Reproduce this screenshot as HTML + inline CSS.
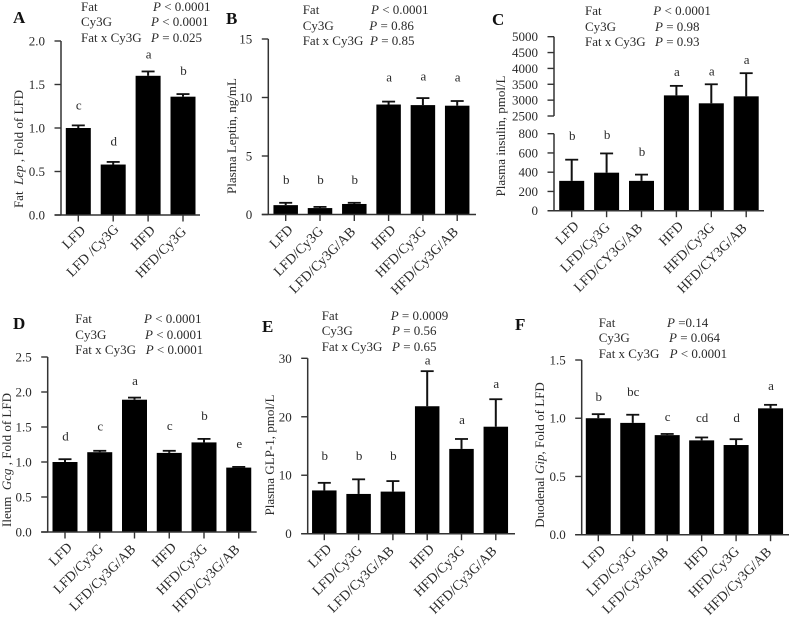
<!DOCTYPE html>
<html>
<head>
<meta charset="utf-8">
<title>Six-panel bar chart</title>
<style>
html,body{margin:0;padding:0;background:#fff;}
svg{display:block;}
text{font-family:"Liberation Serif",serif;font-size:13px;fill:#2a2a2a;}
.pl{font-family:"Liberation Serif",serif;font-size:17px;font-weight:bold;fill:#111;}
.xl{font-size:14px;}
.i{font-style:italic;}
</style>
</head>
<body>
<svg id="chart" xmlns="http://www.w3.org/2000/svg" width="791" height="618" viewBox="0 0 791 618">
<rect width="791" height="618" fill="#fff"/>
<text class="pl" x="13" y="23">A</text>
<text class="pl" x="226" y="24">B</text>
<text class="pl" x="492" y="25">C</text>
<text class="pl" x="13" y="329">D</text>
<text class="pl" x="262" y="332">E</text>
<text class="pl" x="515" y="330">F</text>

<g>
<text x="81" y="11">Fat</text><text x="153" y="11"><tspan class="i">P</tspan> &lt; 0.0001</text>
<text x="81" y="26">Cy3G</text><text x="151" y="26"><tspan class="i">P</tspan> &lt; 0.0001</text>
<text x="81" y="42">Fat x Cy3G</text><text x="151" y="42"><tspan class="i">P</tspan> = 0.025</text>
</g>
<g>
<text x="302.7" y="14">Fat</text><text x="371" y="14"><tspan class="i">P</tspan> &lt; 0.0001</text>
<text x="302.7" y="30">Cy3G</text><text x="369.3" y="30"><tspan class="i">P</tspan> = 0.86</text>
<text x="302.7" y="45">Fat x Cy3G</text><text x="370" y="45"><tspan class="i">P</tspan> = 0.85</text>
</g>
<g>
<text x="585" y="15">Fat</text><text x="653.3" y="15"><tspan class="i">P</tspan> &lt; 0.0001</text>
<text x="585" y="31">Cy3G</text><text x="655" y="31"><tspan class="i">P</tspan> = 0.98</text>
<text x="585" y="46">Fat x Cy3G</text><text x="655" y="46"><tspan class="i">P</tspan> = 0.93</text>
</g>
<g>
<text x="75.3" y="323">Fat</text><text x="144" y="323"><tspan class="i">P</tspan> &lt; 0.0001</text>
<text x="75.3" y="339">Cy3G</text><text x="145" y="339"><tspan class="i">P</tspan> &lt; 0.0001</text>
<text x="75.3" y="354">Fat x Cy3G</text><text x="145.7" y="354"><tspan class="i">P</tspan> &lt; 0.0001</text>
</g>
<g>
<text x="321.7" y="320">Fat</text><text x="390.7" y="320"><tspan class="i">P</tspan> = 0.0009</text>
<text x="321.7" y="335">Cy3G</text><text x="392" y="335"><tspan class="i">P</tspan> = 0.56</text>
<text x="321.7" y="351">Fat x Cy3G</text><text x="392" y="351"><tspan class="i">P</tspan> = 0.65</text>
</g>
<g>
<text x="598.7" y="327">Fat</text><text x="667" y="327"><tspan class="i">P</tspan> =0.14</text>
<text x="598.7" y="342">Cy3G</text><text x="669" y="342"><tspan class="i">P</tspan> = 0.064</text>
<text x="598.7" y="358">Fat x Cy3G</text><text x="669.6" y="358"><tspan class="i">P</tspan> &lt; 0.0001</text>
</g>

<text text-anchor="middle" transform="translate(23,149) rotate(-90)">Fat&#160;&#160;<tspan class="i">Lep</tspan> , Fold of LFD</text>
<text text-anchor="middle" transform="translate(236,136) rotate(-90)">Plasma Leptin, ng/mL</text>
<text text-anchor="middle" transform="translate(505,136) rotate(-90)">Plasma insulin, pmol/L</text>
<text text-anchor="middle" transform="translate(11,460) rotate(-90)">Ileum&#160;&#160;<tspan class="i">Gcg</tspan> , Fold of LFD</text>
<text text-anchor="middle" transform="translate(274,455) rotate(-90)">Plasma GLP-1, pmol/L</text>
<text text-anchor="middle" transform="translate(544,455) rotate(-90)">Duodenal <tspan class="i">Gip</tspan>, Fold of LFD</text>
</svg>
<script>
// Panel A
const aCategories = ["LFD", "LFD /Cy3G", "HFD", "HFD/Cy3G"];
const aMeans = [1.0, 0.58, 1.6, 1.36];
const aErrorTops = [1.03, 0.61, 1.65, 1.39];
const aLetters = ["c", "d", "a", "b"];
const aLetterLevels = [1.21, 0.8, 1.8, 1.61];
const aTicks = ["0.0", "0.5", "1.0", "1.5", "2.0"];
// Panel B
const bCategories = ["LFD", "LFD/Cy3G", "LFD/Cy3G/AB", "HFD", "HFD/Cy3G", "HFD/Cy3G/AB"];
const bMeans = [0.8, 0.55, 0.9, 9.4, 9.35, 9.3];
const bErrorTops = [1.0, 0.65, 1.0, 9.65, 9.95, 9.7];
const bLetters = ["b", "b", "b", "a", "a", "a"];
const bLetterLevels = [2.6, 2.6, 2.6, 11.37, 11.45, 11.37];
const bTicks = ["0", "5", "10", "15"];
// Panel C
const cCategories = ["LFD", "LFD/Cy3G", "LFD/CY3G/AB", "HFD", "HFD/Cy3G", "HFD/CY3G/AB"];
const cMeans = [310, 395, 310, 3150, 2900, 3120];
const cErrorTops = [530, 595, 375, 3450, 3500, 3850];
const cLetters = ["b", "b", "b", "a", "a", "a"];
const cLetterLevels = [735, 745, 568, 3761, 3777, 4139];
const cTicks = ["0", "200", "400", "600", "800", "2500", "3000", "3500", "4000", "4500", "5000"];
// Panel D
const dCategories = ["LFD", "LFD/Cy3G", "LFD/Cy3G/AB", "HFD", "HFD/Cy3G", "HFD/Cy3G/AB"];
const dMeans = [1.0, 1.14, 1.89, 1.13, 1.28, 0.92];
const dErrorTops = [1.04, 1.16, 1.92, 1.16, 1.33, 0.93];
const dLetters = ["d", "c", "a", "c", "b", "e"];
const dLetterLevels = [1.31, 1.45, 2.1, 1.46, 1.6, 1.2];
const dTicks = ["0.0", "0.5", "1.0", "1.5", "2.0", "2.5"];
// Panel E
const eCategories = ["LFD", "LFD/Cy3G", "LFD/Cy3G/AB", "HFD", "HFD/Cy3G", "HFD/Cy3G/AB"];
const eMeans = [7.4, 6.8, 7.2, 21.8, 14.5, 18.3];
const eErrorTops = [8.7, 9.3, 9.0, 27.8, 16.2, 23.0];
const eLetters = ["b", "b", "b", "a", "a", "a"];
const eLetterLevels = [12.6, 12.6, 12.6, 28.9, 18.8, 24.9];
const eTicks = ["0", "10", "20", "30"];
// Panel F
const fCategories = ["LFD", "LFD/Cy3G", "LFD/Cy3G/AB", "HFD", "HFD/Cy3G", "HFD/Cy3G/AB"];
const fMeans = [1.0, 0.96, 0.855, 0.81, 0.77, 1.085];
const fErrorTops = [1.035, 1.03, 0.865, 0.835, 0.82, 1.115];
const fLetters = ["b", "bc", "c", "cd", "d", "a"];
const fLetterLevels = [1.147, 1.19, 0.976, 0.967, 0.967, 1.242];
const fTicks = ["0.0", "0.5", "1.0", "1.5"];

const NS = "http://www.w3.org/2000/svg";
const svg = document.getElementById("chart");
const AXIS = "#333";

function linearScale(d0, d1, p0, p1) {
  return function (v) { return p0 + (v - d0) * (p1 - p0) / (d1 - d0); };
}
function brokenScale(lowMax, highMin, low, high) {
  return function (v) { return v <= lowMax ? low(v) : (v >= highMin ? high(v) : high(highMin)); };
}
function line(parent, x1, y1, x2, y2, w, color) {
  const el = document.createElementNS(NS, "line");
  el.setAttribute("x1", x1);
  el.setAttribute("y1", y1);
  el.setAttribute("x2", x2);
  el.setAttribute("y2", y2);
  el.setAttribute("stroke", color);
  el.setAttribute("stroke-width", w);
  parent.appendChild(el);
  return el;
}
function label(parent, x, y, str, anchor) {
  const el = document.createElementNS(NS, "text");
  el.setAttribute("x", x);
  el.setAttribute("y", y);
  el.setAttribute("text-anchor", anchor);
  el.textContent = str;
  parent.appendChild(el);
  return el;
}

function drawPanel(p) {
  const g = document.createElementNS(NS, "g");
  
  
  svg.appendChild(g);
  const xOf = function (i) { return p.x0 + p.step * i; };
  const y = p.y;

  p.categories.forEach(function (cat, i) {
    const cx = xOf(i);
    const bar = document.createElementNS(NS, "rect");
    bar.setAttribute("x", cx - p.barW / 2);
    bar.setAttribute("y", y(p.means[i]));
    bar.setAttribute("width", p.barW);
    bar.setAttribute("height", y(0) - y(p.means[i]));
    bar.setAttribute("fill", "#000");
    
    
    g.appendChild(bar);

    const stem = line(g, cx, y(p.means[i]), cx, y(p.errorTops[i]), 2, "#111");
    
    
    const cap = line(g, cx - 6.5, y(p.errorTops[i]), cx + 6.5, y(p.errorTops[i]), 1.8, "#111");
    
    

    const tick = line(g, cx, y(0), cx, y(0) + 6.5, 1.4, AXIS);
    
    

    const t = label(g, 0, 0, cat, "end");
    t.setAttribute("class", "xl");
    const len = t.getComputedTextLength();
    const nudge = cat.indexOf(" ") >= 0 ? 2.5 : 0;
    const lx = cx + 10.6 - 0.1 * len + nudge;
    const ly = y(0) + 15.2 + 0.033 * len - nudge;
    t.setAttribute("x", lx);
    t.setAttribute("y", ly);
    t.setAttribute("transform", "rotate(-45 " + lx + " " + ly + ")");
    
    

    const sig = label(g, cx + 0.5, y(p.letterLevels[i]), p.letters[i], "middle");
    
    
  });

  p.ticks.forEach(function (tk, i) {
    const ty = y(parseFloat(tk));
    const tl = line(g, p.axisX - 6.5, ty, p.axisX, ty, 1.4, AXIS);
    
    
    const t = label(g, p.axisX - 16, ty + 4.5, tk, "end");
    
    
  });

  p.axisSegments.forEach(function (seg, i) {
    const ax = line(g, p.axisX, y(seg[0]), p.axisX, y(seg[1]), 1.5, AXIS);
    
    
  });
  const base = line(g, p.axisX - 6.5, y(0), p.xEnd, y(0), 1.5, AXIS);
  
  
}

drawPanel({ id: "a", categories: aCategories, means: aMeans, errorTops: aErrorTops, letters: aLetters, letterLevels: aLetterLevels, ticks: aTicks,
  x0: 78.3, step: 34.9, barW: 25, axisX: 61, xEnd: 200, y: linearScale(0, 2, 215, 41), axisSegments: [[0, 2]] });
drawPanel({ id: "b", categories: bCategories, means: bMeans, errorTops: bErrorTops, letters: bLetters, letterLevels: bLetterLevels, ticks: bTicks,
  x0: 285.7, step: 34.3, barW: 24.5, axisX: 268.3, xEnd: 476, y: linearScale(0, 15, 214.5, 39), axisSegments: [[0, 15]] });
drawPanel({ id: "c", categories: cCategories, means: cMeans, errorTops: cErrorTops, letters: cLetters, letterLevels: cLetterLevels, ticks: cTicks,
  x0: 571.7, step: 34.9, barW: 25, axisX: 554, xEnd: 764,
  y: brokenScale(800, 2500, linearScale(0, 800, 210.7, 133.7), linearScale(2500, 5000, 116, 36.7)), axisSegments: [[0, 800], [2500, 5000]] });
drawPanel({ id: "d", categories: dCategories, means: dMeans, errorTops: dErrorTops, letters: dLetters, letterLevels: dLetterLevels, ticks: dTicks,
  x0: 65, step: 34.75, barW: 25, axisX: 47.7, xEnd: 256.7, y: linearScale(0, 2.5, 532, 357), axisSegments: [[0, 2.5]] });
drawPanel({ id: "e", categories: eCategories, means: eMeans, errorTops: eErrorTops, letters: eLetters, letterLevels: eLetterLevels, ticks: eTicks,
  x0: 324.3, step: 34.3, barW: 24.5, axisX: 307.7, xEnd: 515, y: linearScale(0, 30, 533.7, 358.3), axisSegments: [[0, 30]] });
drawPanel({ id: "f", categories: fCategories, means: fMeans, errorTops: fErrorTops, letters: fLetters, letterLevels: fLetterLevels, ticks: fTicks,
  x0: 598.3, step: 34.45, barW: 25, axisX: 581.7, xEnd: 789, y: linearScale(0, 1.5, 534.7, 360), axisSegments: [[0, 1.5]] });
</script>
</body>
</html>
